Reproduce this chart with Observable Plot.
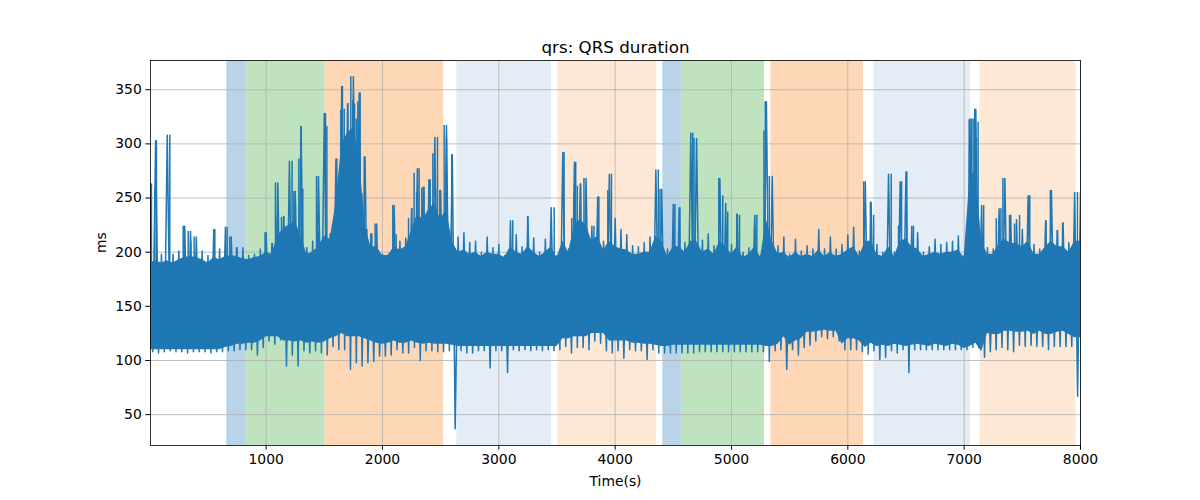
<!DOCTYPE html>
<html><head><meta charset="utf-8">
<script src="https://cdn.jsdelivr.net/npm/d3@7"></script>
<script src="https://cdn.jsdelivr.net/npm/@observablehq/plot@0.6"></script>
<style>body{margin:0;background:#fff}</style>
</head><body><div id="chart"></div>
<script>
// ---- data ----
const title = "qrs: QRS duration";
const xLabel = "Time(s)";
const yLabel = "ms";
const xTicks = [1000, 2000, 3000, 4000, 5000, 6000, 7000, 8000];
const yTicks = [50, 100, 150, 200, 250, 300, 350];

// shaded stage spans (seconds)
const spanStart = [662, 823, 1507, 2639, 3508, 4410, 4576, 5339, 6224, 7135];
const spanEnd   = [823, 1507, 2525, 3453, 4356, 4576, 5284, 6135, 7055, 7960];
const spanKind  = ["A", "B", "C", "D", "E", "A", "B", "C", "D", "E"];
const kindColor = {A: "#b9d3e8", B: "#bfe2bf", C: "#fed8b6", D: "#e4ecf6", E: "#fde8d5"};

// per 50-s column (t = 0, 50, ..., 8000): highest and lowest QRS value (ms)
const colStep = 50;
const colHigh = [
 263,303,198,308,198,201,224,219,214,201,
 197,221,203,223,214,204,204,197,198,203,
 218,208,264,233,284,256,316,204,210,270,
 328,217,286,353,337,362,347,288,217,226,
 198,198,243,210,213,240,277,260,267,306,
 257,317,290,214,218,209,210,200,214,204,
 207,197,229,216,205,233,213,200,212,241,
 197,292,203,283,263,268,224,251,210,272,
 231,221,216,206,205,209,214,276,258,203,
 244,241,209,310,305,211,217,206,268,245,
 207,235,200,204,234,197,339,270,206,214,
 198,212,201,206,203,221,203,214,203,207,
 216,223,201,265,246,207,200,272,200,265,
 274,224,218,200,205,212,207,209,210,215,
 197,323,332,243,204,203,240,268,234,230,
 221,252,207,203,229,257,220,227,209,255,
 255];
const colLow = [
 108,107,108,109,108,108,107,108,108,108,
 107,108,108,109,109,110,110,110,105,112,
 118,115,119,95,105,95,109,107,109,107,
 105,113,110,110,92,98,95,98,99,104,
 104,105,110,107,107,112,100,109,109,108,
 108,109,37,109,107,107,109,109,93,109,
 109,89,110,109,110,109,110,109,110,109,
 110,113,107,112,112,110,118,116,109,107,
 109,102,110,109,109,101,110,107,107,107,
 107,107,107,107,108,108,108,108,108,108,
 108,108,108,108,108,108,99,109,110,92,
 110,105,112,114,118,122,120,122,118,110,
 110,110,108,106,109,101,103,109,107,110,
 89,110,110,110,110,110,110,110,110,110,
 110,112,112,103,108,110,112,110,108,114,
 113,114,113,113,110,113,113,113,113,67,
 111];
// per 50-s column: top and bottom of the dense part of the trace (ms)
const colTop = [
 190,192,190,192,190,193,195,196,195,193,
 190,195,193,196,197,196,194,193,195,196,
 200,198,215,222,225,228,215,198,200,205,
 215,212,245,300,310,315,290,225,205,205,
 197,197,205,202,205,220,235,230,240,245,
 230,240,210,200,202,198,200,196,200,198,
 198,195,205,200,198,205,200,196,200,205,
 195,210,200,225,230,225,210,215,202,210,
 205,203,202,198,198,200,200,215,210,196,
 205,205,200,210,210,200,203,198,210,205,
 198,205,195,198,205,195,230,210,198,200,
 195,200,196,198,196,202,196,200,196,198,
 202,205,196,210,210,198,196,205,196,210,
 212,205,203,196,198,200,198,200,200,202,
 195,270,275,210,198,198,208,212,208,208,
 205,210,198,198,205,210,205,205,200,210,
 210];
const colBot = [
 110,110,110,110,110,110,110,110,110,110,
 110,110,110,112,113,115,115,116,116,118,
 122,122,122,118,118,117,118,116,117,116,
 117,120,122,125,122,122,122,120,118,116,
 115,116,118,116,116,118,116,115,116,115,
 115,115,114,113,113,113,113,113,113,113,
 113,113,113,113,113,113,113,113,113,113,
 113,120,120,122,122,122,125,125,125,118,
 118,118,118,116,116,115,115,114,113,113,
 114,114,114,114,114,114,114,114,114,114,
 114,114,114,114,114,114,113,113,115,122,
 114,118,120,126,126,127,128,127,127,115,
 120,120,118,112,116,113,114,113,115,114,
 113,114,115,114,113,115,114,113,115,114,
 111,113,116,108,125,124,124,127,127,126,
 126,127,124,127,124,124,126,127,124,121,
 121];

// isolated spikes (time s, peak ms)
const spikeT = [14,43,57,172,287,330,352,381,559,665,688,745,991,1054,1080,1095,1132,1152,1223,1238,1252,1281,1301,1315,1433,1450,1510,1522,1593,1608,1622,1642,1656,1671,1685,1702,1728,1745,1760,1774,1788,1808,1823,1843,1866,1909,1937,2089,2118,2224,2252,2272,2293,2315,2338,2358,2402,2410,2433,2456,2473,2493,2530,2550,2595,3120,3248,3476,3561,3627,3647,3661,3675,3704,3732,3818,3860,3937,3968,4371,4385,4514,4557,4667,4678,4891,4925,4968,5046,5069,5198,5218,5279,5290,5325,6137,6194,6222,6373,6436,6462,6507,6564,7043,7063,7077,7091,7105,7120,7168,7276,7316,7333,7390,7433,7476,7564,7704,7741,7803,7846,7974];
const spikeV = [263,258,303,308,224,219,210,214,221,223,214,204,218,208,264,231,232,233,284,256,246,286,316,258,270,219,328,316,239,286,257,331,353,332,302,337,362,340,337,323,339,347,254,288,221,217,226,243,216,231,240,273,255,277,259,260,266,267,291,257,306,257,317,305,290,229,233,241,292,231,255,283,261,263,268,224,251,257,272,276,258,244,241,310,305,268,252,237,235,234,223,234,312,339,270,265,246,234,272,224,265,274,224,322,323,323,332,305,320,243,231,240,268,234,226,234,252,229,257,220,227,255];

// ---- build tables ----
const spans = spanStart.map((s, i) => ({start: s, end: spanEnd[i], color: kindColor[spanKind[i]]}));
const trace = colHigh.flatMap((h, i) => [
  {t: i * colStep, v: h},
  {t: i * colStep + colStep / 2, v: colLow[i]}
]);
const core = colTop.map((h, i) => ({t: i * colStep, lo: colBot[i], hi: h}));
const spikes = spikeT.map((t, i) => ({t, v: spikeV[i]}));

const blue = "#1f77b4";
const chart = Plot.plot({
  width: 1200, height: 500,
  marginLeft: 150, marginRight: 120, marginTop: 60, marginBottom: 55,
  style: {fontFamily: "DejaVu Sans", fontSize: "13.9px", background: "white", color: "black"},
  x: {domain: [6, 8000], label: null},
  y: {domain: [21.5, 377], label: null},
  color: {type: "identity"},
  marks: [
    Plot.rect(spans, {x1: "start", x2: "end", fill: "color"}),
    Plot.gridX(xTicks, {stroke: "#b0b0b0", strokeOpacity: 1, strokeWidth: 0.8}),
    Plot.gridY(yTicks, {stroke: "#b0b0b0", strokeOpacity: 1, strokeWidth: 0.8}),
    Plot.areaY(core, {x: "t", y1: "lo", y2: "hi", fill: blue, clip: true}),
    Plot.ruleX(spikes, {x: "t", y1: 150, y2: "v", stroke: blue, strokeWidth: 1.5, clip: true}),
    Plot.line(trace, {x: "t", y: "v", stroke: blue, strokeWidth: 1.5, clip: true}),
    Plot.axisX(xTicks, {tickSize: 4.7, tickPadding: 4, tickFormat: d => String(d), label: null}),
    Plot.axisY(yTicks, {tickSize: 4.7, tickPadding: 4, tickFormat: d => String(d), label: null}),
    Plot.frame({stroke: "black", strokeWidth: 0.8}),
    Plot.text([title], {frameAnchor: "top", dy: -19, fontSize: 16.7}),
    Plot.text([xLabel], {frameAnchor: "bottom", dy: 40}),
    Plot.text([yLabel], {frameAnchor: "left", dx: -49, rotate: -90})
  ]
});
document.getElementById("chart").append(chart);
</script>
</body></html>
